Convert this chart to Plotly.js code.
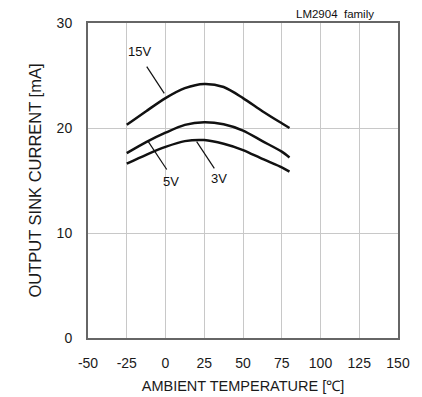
<!DOCTYPE html>
<html>
<head>
<meta charset="utf-8">
<script src="https://cdn.plot.ly/plotly-3.0.1.min.js"></script>
<style>html,body{margin:0;padding:0;background:#fff;}#chart{width:422px;height:397px;}</style>
</head>
<body>
<div id="chart"></div>
<script>
// Temperature (°C)
const temps = [-25, -12.5, 0, 12.5, 25, 37.5, 50, 62.5, 75, 80];
// Output sink current (mA) for each supply voltage
const sink15V = [20.3, 21.6, 22.85, 23.8, 24.2, 23.9, 22.85, 21.6, 20.45, 20.0];
const sink5V  = [17.6, 18.65, 19.55, 20.3, 20.55, 20.35, 19.75, 18.75, 17.75, 17.2];
const sink3V  = [16.6, 17.45, 18.2, 18.75, 18.85, 18.5, 17.9, 17.05, 16.25, 15.85];

const seriesNames = ["15V", "5V", "3V"];
const seriesData = [sink15V, sink5V, sink3V];

// Curve labels with leader lines (label x, label y, line start x,y, line end x,y)
const labelX = [-16.5, 3.3, 34.5];
const labelY = [27.25, 14.9, 15.2];
const leadX0 = [-12.1, -11.1, 20.1];
const leadY0 = [25.85, 18.7, 18.7];
const leadX1 = [-0.8, 0.8, 31.5];
const leadY1 = [23.3, 16.05, 16.15];

const xTicks = [-50, -25, 0, 25, 50, 75, 100, 125, 150];
const yTicks = [0, 10, 20, 30];

const font = "Liberation Sans, Arial, sans-serif";

const traces = seriesData.map((ys, i) => ({
  x: temps, y: ys, type: "scatter", mode: "lines", name: seriesNames[i],
  line: {color: "#111", width: 2.5, shape: "spline", smoothing: 0.8}
}));

const shapes = seriesNames.map((n, i) => ({
  type: "line", xref: "x", yref: "y",
  x0: leadX0[i], y0: leadY0[i], x1: leadX1[i], y1: leadY1[i],
  line: {color: "#111", width: 1.2}
}));

const annotations = seriesNames.map((n, i) => ({
  x: labelX[i], y: labelY[i], xref: "x", yref: "y", text: n, showarrow: false,
  font: {family: font, size: 13, color: "#111"}
}));
annotations.push({
  x: (376 - 88) / (398 - 88), y: (338 - 14) / (338 - 23),
  xref: "paper", yref: "paper", text: "LM2904  family",
  showarrow: false, xanchor: "right", yanchor: "middle",
  font: {family: font, size: 11.5, color: "#111"}
});

const layout = {
  width: 422, height: 397,
  margin: {l: 88, r: 24, t: 23, b: 59},
  paper_bgcolor: "#fff", plot_bgcolor: "#fff",
  showlegend: false,
  font: {family: font, size: 14, color: "#222"},
  xaxis: {
    range: [-50, 150], tickvals: xTicks, ticktext: xTicks.map(String),
    showgrid: true, gridcolor: "#c8c8c8", gridwidth: 1,
    zeroline: false, showline: true, mirror: true, linecolor: "#666", linewidth: 2,
    ticks: "", ticklabelstandoff: 11,
    tickfont: {family: font, size: 14, color: "#1a1a1a"},
    title: {text: "AMBIENT TEMPERATURE [℃]", font: {family: font, size: 14.5, color: "#1a1a1a"}, standoff: 11}
  },
  yaxis: {
    range: [0, 30], tickvals: yTicks, ticktext: yTicks.map(String),
    showgrid: true, gridcolor: "#c8c8c8", gridwidth: 1,
    zeroline: false, showline: true, mirror: true, linecolor: "#666", linewidth: 2,
    ticks: "", ticklabelstandoff: 11,
    tickfont: {family: font, size: 14, color: "#1a1a1a"},
    title: {text: "OUTPUT SINK CURRENT [mA]", font: {family: font, size: 16.5, color: "#1a1a1a"}, standoff: 11}
  },
  shapes: shapes,
  annotations: annotations
};

Plotly.newPlot("chart", traces, layout, {displayModeBar: false, staticPlot: true});
</script>
</body>
</html>
